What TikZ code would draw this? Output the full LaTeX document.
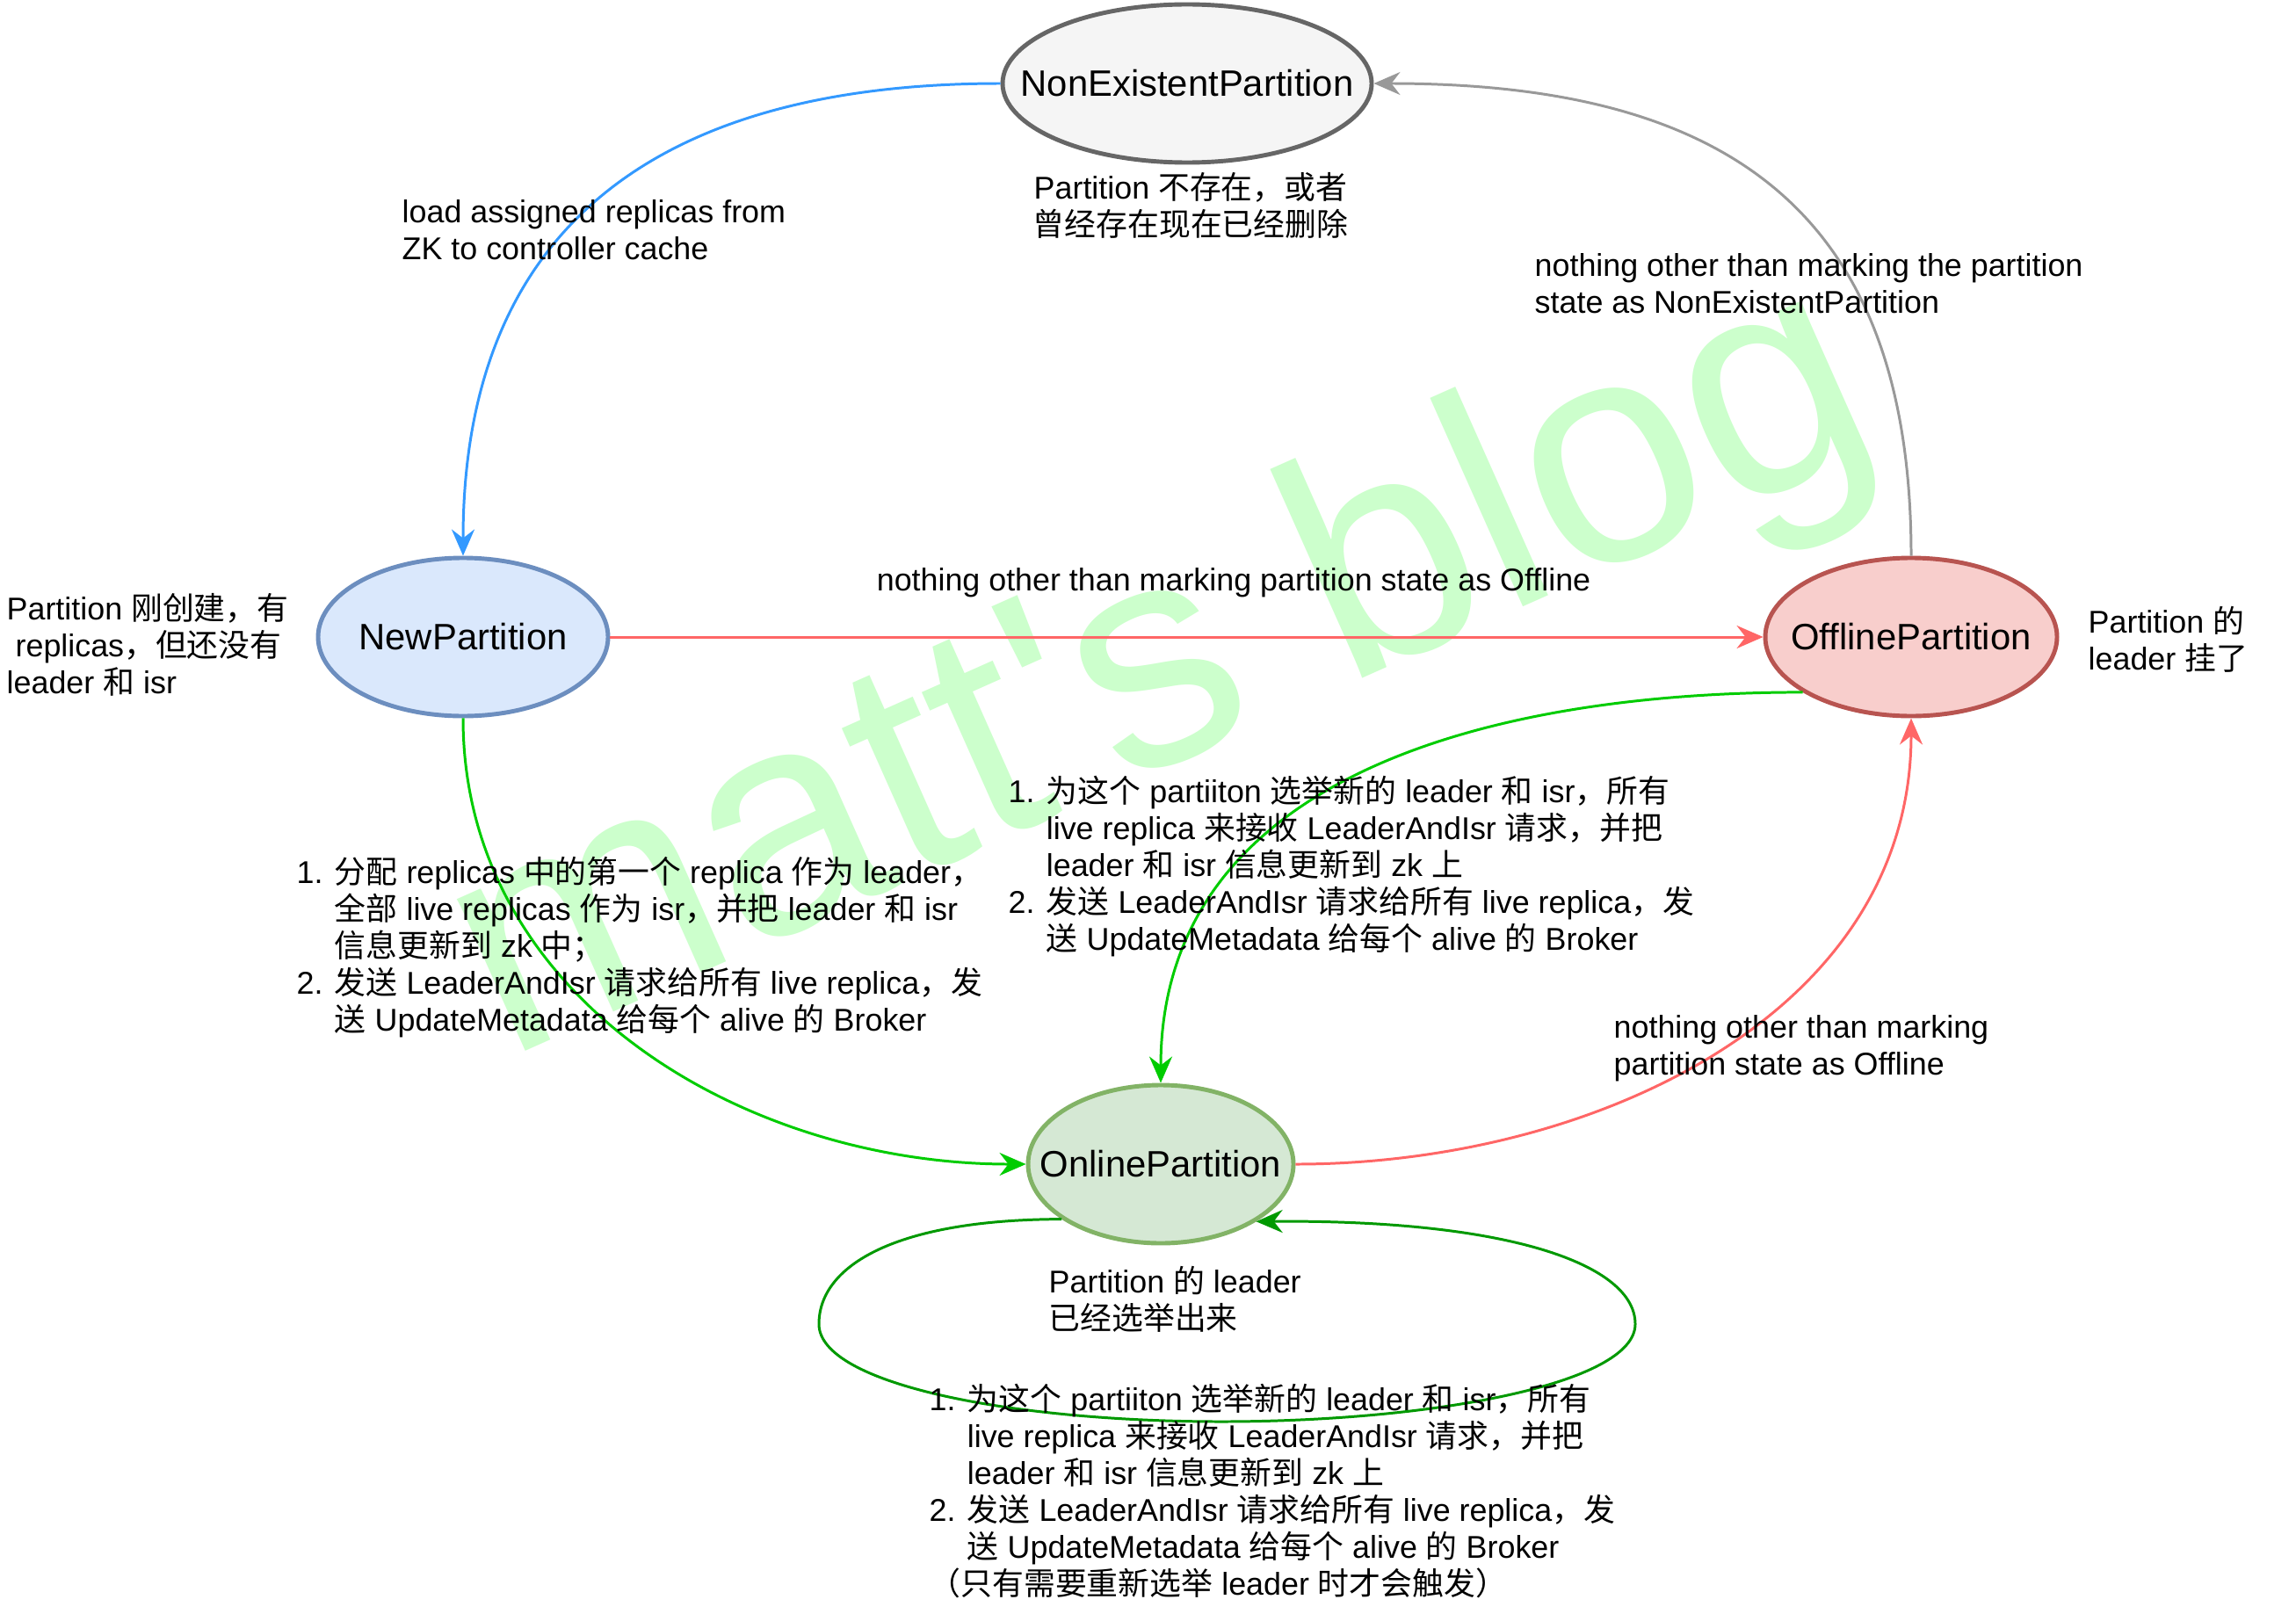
\documentclass[tikz,border=0pt]{standalone}
\usepackage{fontspec}
\setmainfont{Liberation Sans}
\newfontfamily\cjk{Noto Sans CJK SC}
\usepackage{tikz}
\usetikzlibrary{shapes.geometric, arrows.meta, positioning}

% switch to the CJK font for Chinese characters and back
\chardef\zhclass=10
\newcount\zhcode
\def\setzhrange#1#2{\zhcode=#1\relax
  \loop\XeTeXcharclass\zhcode=\zhclass
  \ifnum\zhcode<#2\relax\advance\zhcode by 1\repeat}
\setzhrange{"3000}{"303F}
\setzhrange{"4E00}{"9FFF}
\setzhrange{"FF00}{"FFEF}
\XeTeXinterchartoks 0 \zhclass = {\cjk}
\XeTeXinterchartoks 4095 \zhclass = {\cjk}
\XeTeXinterchartoks \zhclass 0 = {\rmfamily}
\XeTeXinterchartoks \zhclass 4095 = {\rmfamily}
\XeTeXinterchartokenstate=1

\definecolor{nonexfill}{HTML}{F5F5F5}
\definecolor{nonexline}{HTML}{666666}
\definecolor{newfill}{HTML}{DAE8FC}
\definecolor{newline}{HTML}{6C8EBF}
\definecolor{offfill}{HTML}{F8CECC}
\definecolor{offline}{HTML}{B85450}
\definecolor{onfill}{HTML}{D5E8D4}
\definecolor{online}{HTML}{82B366}
\definecolor{linkblue}{HTML}{3399FF}
\definecolor{linkgray}{HTML}{999999}
\definecolor{linkred}{HTML}{FF6666}
\definecolor{linkgreen}{HTML}{00CC00}
\definecolor{loopgreen}{HTML}{009900}
\definecolor{markgreen}{HTML}{CCFFCC}

\newcommand\statename[1]{\makebox[0pt]{#1}}
\newcommand\listind{\hphantom{1. }}

\tikzset{
    state/.style={ellipse, line width=1.4pt, minimum height=1.8cm, inner sep=0pt,
        font=\fontsize{11.9}{14}\selectfont},
    note/.style={align=left, inner sep=0pt, font=\fontsize{10.2}{11.9}\selectfont},
    link/.style={line width=0.85pt, -{Stealth[length=3mm, width=2.6mm, inset=1mm]}},
    wmark/.style={transform shape, inner sep=0pt, text=markgreen,
        font=\fontsize{102}{110}\selectfont},
}

\begin{document}
\begin{tikzpicture}
    \path[fill=white] (0,0) rectangle (26.13,-18.36);
    \useasboundingbox (0,0) rectangle (26.13,-18.36);

    % Watermark behind everything
    \begin{scope}[shift={(5.75,-12.07)}, rotate=24]
        \node[wmark, anchor=base west] (mark) at (0,0) {matt\textquotesingle s blog};
    \end{scope}

    % The four partition states
    \node[state, draw=nonexline, fill=nonexfill, minimum width=4.2cm] (nonex) at (13.51,-0.95) {\statename{NonExistentPartition}};
    \node[state, draw=newline, fill=newfill, minimum width=3.3cm] (newp) at (5.27,-7.25) {\statename{NewPartition}};
    \node[state, draw=offline, fill=offfill, minimum width=3.32cm] (offp) at (21.75,-7.25) {\statename{OfflinePartition}};
    \node[state, draw=online, fill=onfill, minimum width=3.02cm] (onp) at (13.21,-13.25) {\statename{OnlinePartition}};

    % Notes next to the states
    \node[note, align=center] (nonexnote) at (13.55,-2.34) {Partition 不存在，或者\\曾经存在现在已经删除};
    \node[note, anchor=west] (newnote) at (0.07,-7.34) {Partition 刚创建，有\\~replicas，但还没有\\leader 和 isr};
    \node[note, anchor=west] (offnote) at (23.76,-7.28) {Partition 的\\leader 挂了};
    \node[note, anchor=west] (onnote) at (11.93,-14.79) {Partition 的 leader\\已经选举出来};

    % Transitions
    \draw[link, linkblue] (nonex.west) to[out=180, in=90, looseness=1.2] (newp.north);
    \draw[link, linkgray] (offp.north) to[out=90, in=0, looseness=1.25] (nonex.east);
    \draw[link, linkred] (newp.east) -- (offp.west);
    \draw[link, linkgreen] (newp.south) to[out=-90, in=180] (onp.west);
    \draw[link, linkgreen] (offp.207) to[out=180, in=90, looseness=1.05] (onp.north);
    \draw[link, linkred] (onp.east) to[out=0, in=-90] (offp.south);

    % Self loop on OnlinePartition
    \coordinate (loopL) at (9.32,-15.07);
    \coordinate (loopB) at (13.9,-16.18);
    \coordinate (loopR) at (18.61,-15.07);
    \draw[link, loopgreen] (onp.209.8) .. controls (10.2,-13.88) and (9.32,-14.4) .. (loopL)
        .. controls (9.32,-15.75) and (11.5,-16.18) .. (loopB)
        .. controls (16.3,-16.18) and (18.61,-15.75) .. (loopR)
        .. controls (18.61,-14.4) and (17.2,-13.88) .. (onp.329.5);

    % Transition labels
    \node[note, anchor=west] (loadnote) at (4.57,-2.62) {load assigned replicas from\\ZK to controller cache};
    \node[note, anchor=west] (delnote) at (17.46,-3.23) {nothing other than marking the partition\\state as NonExistentPartition};
    \node[note] (offlabel) at (14.04,-6.63) {nothing other than marking partition state as Offline};
    \node[note, anchor=west] (onoffnote) at (18.36,-11.93) {nothing other than marking\\partition state as Offline};
    \node[note, anchor=west] (newlist) at (3.37,-10.78) {1. 分配 replicas 中的第一个 replica 作为 leader，\\
        \listind 全部 live replicas 作为 isr，并把 leader 和 isr\\
        \listind 信息更新到 zk 中；\\
        2. 发送 LeaderAndIsr 请求给所有 live replica，发\\
        \listind 送 UpdateMetadata 给每个 alive 的 Broker};
    \node[note, anchor=west] (offlist) at (11.47,-9.86) {1. 为这个 partiiton 选举新的 leader 和 isr，所有\\
        \listind live replica 来接收 LeaderAndIsr 请求，并把\\
        \listind leader 和 isr 信息更新到 zk 上\\
        2. 发送 LeaderAndIsr 请求给所有 live replica，发\\
        \listind 送 UpdateMetadata 给每个 alive 的 Broker};
    \node[note, anchor=west] (onlist) at (10.57,-16.97) {1. 为这个 partiiton 选举新的 leader 和 isr，所有\\
        \listind live replica 来接收 LeaderAndIsr 请求，并把\\
        \listind leader 和 isr 信息更新到 zk 上\\
        2. 发送 LeaderAndIsr 请求给所有 live replica，发\\
        \listind 送 UpdateMetadata 给每个 alive 的 Broker\\
        （只有需要重新选举 leader 时才会触发）};
\end{tikzpicture}
\end{document}
